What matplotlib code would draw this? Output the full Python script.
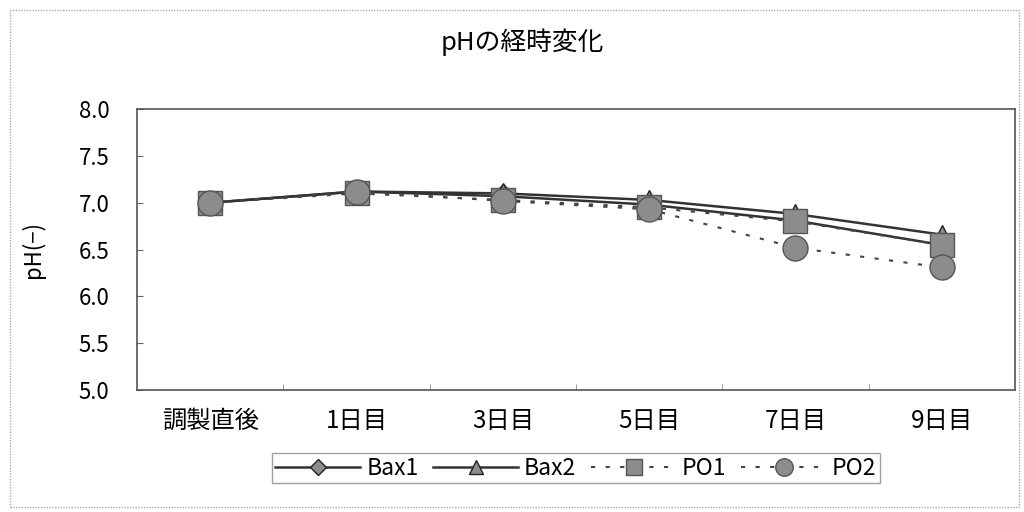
import matplotlib
matplotlib.use('Agg')
import matplotlib.pyplot as plt
from matplotlib.patches import Rectangle

plt.rcParams['font.family'] = ['Noto Sans CJK JP', 'DejaVu Sans']

# data
days = ['調製直後', '1日目', '3日目', '5日目', '7日目', '9日目']
bax1 = [7.00, 7.12, 7.07, 6.98, 6.81, 6.55]
bax2 = [7.00, 7.12, 7.10, 7.03, 6.88, 6.66]
po1 = [7.00, 7.10, 7.03, 6.95, 6.80, 6.55]
po2 = [7.00, 7.12, 7.02, 6.93, 6.52, 6.31]
yticks = [5.0, 5.5, 6.0, 6.5, 7.0, 7.5, 8.0]

fig = plt.figure(figsize=(10.24, 5.12), dpi=100)
ax = fig.add_axes([0.134, 0.238, 0.857, 0.549])

x = list(range(len(days)))
fill = '#8c8c8c'
edge = '#222222'

ax.plot(x, bax1, color='#333333', lw=1.8, marker='D', ms=12,
        mfc=fill, mec=edge, mew=1, label='Bax1')
ax.plot(x, bax2, color='#333333', lw=1.8, marker='^', ms=15,
        mfc=fill, mec=edge, mew=1, label='Bax2')
ax.plot(x, po1, color='#444444', lw=1.5, ls=(0, (2, 5)), marker='s', ms=17,
        mfc=fill, mec='#555555', mew=1, label='PO1')
ax.plot(x, po2, color='#444444', lw=1.5, ls=(0, (2, 5)), marker='o', ms=18,
        mfc=fill, mec='#555555', mew=1, label='PO2')

ax.set_xlim(-0.5, len(days) - 0.5)
ax.set_ylim(5.0, 8.0)
ax.set_yticks(yticks)
ax.set_yticklabels(['%.1f' % v for v in yticks])
ax.set_xticks(x)
ax.set_xticklabels(days)
ax.set_xticks([i + 0.5 for i in range(len(days) - 1)], minor=True)
ax.tick_params(axis='x', which='major', length=0, pad=13, labelsize=17.5)
ax.tick_params(axis='x', which='minor', direction='in', length=4, color='#888888')
ax.tick_params(axis='y', direction='in', length=4, pad=20, labelsize=16,
               color='#666666')
for s in ax.spines.values():
    s.set_color('#555555')
    s.set_linewidth(1.2)

ax.set_ylabel('pH(−)', fontsize=16, labelpad=24)
fig.text(0.51, 0.918, 'pHの経時変化', ha='center', va='center', fontsize=18.5)

leg = ax.legend(loc='upper center', bbox_to_anchor=(0.5, -0.225), ncol=4,
                frameon=True, fancybox=False, fontsize=16.5, handlelength=3.7,
                columnspacing=0.65, handletextpad=0.26, markerscale=0.7,
                borderpad=0.15, borderaxespad=0)
leg.get_frame().set_edgecolor('#888888')
leg.get_frame().set_linewidth(1)

# outer frame of the chart
fig.patches.append(Rectangle((0.01, 0.01), 0.985, 0.97, transform=fig.transFigure,
                             fill=False, ec='#aaaaaa', lw=1, ls=(0, (1, 1))))

fig.savefig('out.png', dpi=100)
